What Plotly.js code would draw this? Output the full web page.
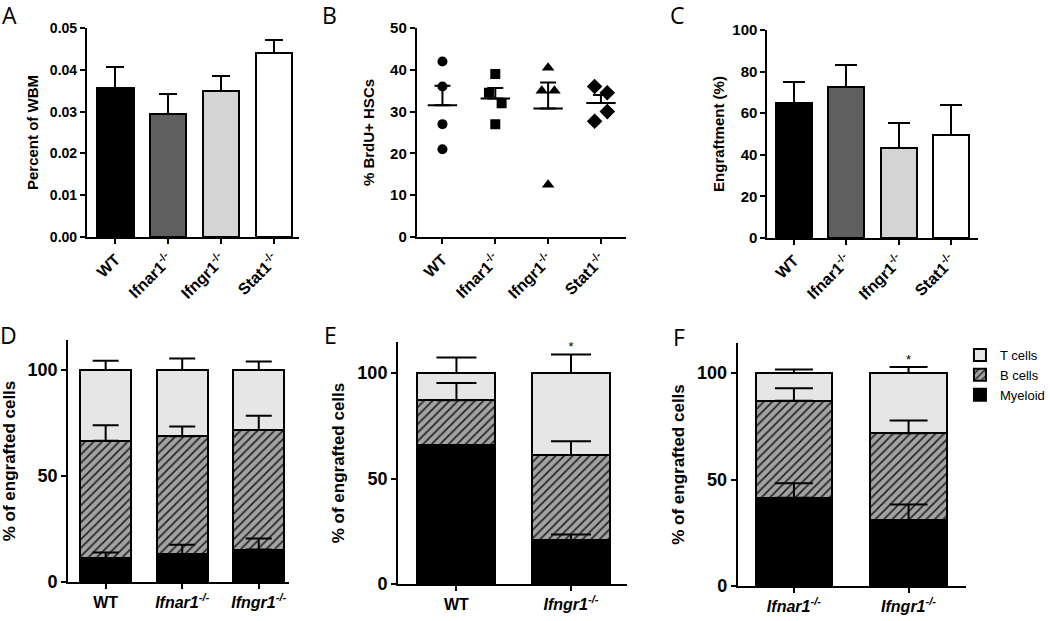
<!DOCTYPE html>
<html><head><meta charset="utf-8">
<script src="https://cdn.plot.ly/plotly-3.0.1.min.js"></script>
<style>html,body{margin:0;padding:0;background:#fff}#chart{width:1050px;height:621px}</style>
</head><body><div id="chart"></div>
<script>
// ---------- shared ----------
const genotypes = ['WT', 'Ifnar1-/-', 'Ifngr1-/-', 'Stat1-/-'];
const genotypeLabels = ['WT', 'Ifnar1<sup>-/-</sup>', 'Ifngr1<sup>-/-</sup>', 'Stat1<sup>-/-</sup>'];
const genotypeColors = ['#000000', '#5f5f5f', '#d4d4d4', '#ffffff'];

// ---------- A: Percent of WBM ----------
const wbmMean = [0.0357, 0.0294, 0.0350, 0.0440];
const wbmSem  = [0.0049, 0.0049, 0.0036, 0.0032];

// ---------- B: % BrdU+ HSCs (individual mice) ----------
const brduWT     = [42, 36, 27, 21];
const brduIfnar1 = [39, 34.5, 32, 27];
const brduIfngr1 = [40.5, 35, 35, 12.5];
const brduStat1  = [36, 34.5, 30, 27.7];
// side on which overlapping points are nudged (-1 left, 0 centre, 1 right)
const sideWT     = [0, 0, 0, 0];
const sideIfnar1 = [0, -1, 1, 0];
const sideIfngr1 = [0, -1, 1, 0];
const sideStat1  = [-1, 1, 1, -1];
const brduSymbols = ['circle', 'square', 'triangle-up', 'diamond'];

// ---------- C: Engraftment ----------
const engMean = [65, 72.5, 43.5, 49.5];
const engSem  = [10, 10.5, 12, 14.5];

// ---------- D ----------
const dCats   = ['WT', 'Ifnar1-/-', 'Ifngr1-/-'];
const dLabels = ['WT', '<i>Ifnar1<sup>-/-</sup></i>', '<i>Ifngr1<sup>-/-</sup></i>'];
const dMyeloid = [11.3, 13.1, 15.3];  const dMyeloidSem = [2.6, 4.5, 5.2];
const dBcells  = [55.3, 55.7, 56.4];  const dBcellsSem  = [7.4, 4.6, 6.7];
const dTcells  = [33.4, 31.2, 28.3];  const dTcellsSem  = [4.4, 5.5, 4.0];
const dStars   = ['', '', ''];

// ---------- E ----------
const eCats   = ['WT', 'Ifngr1-/-'];
const eLabels = ['WT', '<i>Ifngr1<sup>-/-</sup></i>'];
const eMyeloid = [65.7, 20.9];  const eMyeloidSem = [null, 2.6];
const eBcells  = [21.4, 40.2];  const eBcellsSem  = [8.2, 6.6];
const eTcells  = [12.9, 38.9];  const eTcellsSem  = [7.4, 8.8];
const eStars   = ['', '*'];

// ---------- F ----------
const fCats   = ['Ifnar1-/-', 'Ifngr1-/-'];
const fLabels = ['<i>Ifnar1<sup>-/-</sup></i>', '<i>Ifngr1<sup>-/-</sup></i>'];
const fMyeloid = [41.4, 30.8];  const fMyeloidSem = [6.8, 7.5];
const fBcells  = [45.6, 40.9];  const fBcellsSem  = [5.9, 6.0];
const fTcells  = [13.0, 28.3];  const fTcellsSem  = [1.6, 2.8];
const fStars   = ['', '*'];

const seriesNames = ['Myeloid', 'B cells', 'T cells'];

// ================= build =================
const FONT = '"Liberation Sans", Arial, Helvetica, sans-serif';
const traces = [];

function upErr(arr, w) {
  return {type: 'data', array: arr, arrayminus: arr.map(() => 0), symmetric: false,
          color: '#000', thickness: 2, width: w, visible: true};
}

// A
traces.push({type: 'bar', x: genotypes, y: wbmMean, xaxis: 'x', yaxis: 'y', width: 0.69,
  marker: {color: genotypeColors, line: {color: '#000', width: 2}},
  error_y: upErr(wbmSem, 9), showlegend: false});

// B
const brduGroups = [brduWT, brduIfnar1, brduIfngr1, brduStat1];
const brduSides  = [sideWT, sideIfnar1, sideIfngr1, sideStat1];
const means = [], sems = [];
brduGroups.forEach((g, i) => {
  const n = g.length;
  const m = g.reduce((a, b) => a + b, 0) / n;
  const sd = Math.sqrt(g.reduce((a, b) => a + (b - m) * (b - m), 0) / (n - 1));
  means.push(m); sems.push(sd / Math.sqrt(n));
  traces.push({type: 'scatter', mode: 'markers', xaxis: 'x2', yaxis: 'y2',
    x: g.map((v, k) => i + brduSides[i][k] * 0.12), y: g,
    marker: {symbol: brduSymbols[i], size: i === 2 ? 11 : (i === 3 ? 12 : 10), color: '#000'},
    showlegend: false});
});
traces.push({type: 'scatter', mode: 'markers', xaxis: 'x2', yaxis: 'y2',
  x: genotypes.map((_, i) => i), y: means,
  marker: {symbol: 'line-ew', size: 21, line: {color: '#000', width: 2}},
  error_y: upErr(sems, 8), showlegend: false});

// C
traces.push({type: 'bar', x: genotypes, y: engMean, xaxis: 'x3', yaxis: 'y3', width: 0.69,
  marker: {color: genotypeColors, line: {color: '#000', width: 2}},
  error_y: upErr(engSem, 11), showlegend: false});

// D, E, F stacked
const segStyle = [
  {color: '#000000'},
  {color: '#9c9c9c', pattern: {shape: '/', bgcolor: '#a3a3a3', fgcolor: '#262626', size: 6, solidity: 0.3}},
  {color: '#e6e6e6'}
];
function stacked(ax, cats, vals, errs, stars, width, capw, legend) {
  const xa = 'x' + ax, ya = 'y' + ax;
  vals.forEach((v, s) => {
    traces.push({type: 'bar', x: cats, y: v, xaxis: xa, yaxis: ya, width: width,
      name: seriesNames[s], legendgroup: seriesNames[s], showlegend: legend,
      marker: Object.assign({line: {color: '#000', width: 2}}, segStyle[s])});
  });
  // error bars drawn on top of all segments
  const cum = cats.map(() => 0);
  vals.forEach((v, s) => {
    const tops = v.map((val, i) => (cum[i] += val));
    traces.push({type: 'scatter', mode: 'markers', x: cats, y: tops.slice(), xaxis: xa, yaxis: ya,
      marker: {size: 1, opacity: 0}, error_y: upErr(errs[s], capw), showlegend: false, hoverinfo: 'skip'});
  });
  // significance stars (only where one is shown)
  const idx = stars.map((s, i) => i).filter(i => stars[i]);
  if (idx.length) {
    traces.push({type: 'scatter', mode: 'text', xaxis: xa, yaxis: ya,
      x: idx.map(i => cats[i]), y: idx.map(i => cum[i] + (errs[2][i] || 0)),
      text: idx.map(i => stars[i]), textposition: 'top center',
      textfont: {family: FONT, size: 13, color: '#000'}, showlegend: false, hoverinfo: 'skip'});
  }
}
stacked(4, dCats, [dMyeloid, dBcells, dTcells], [dMyeloidSem, dBcellsSem, dTcellsSem], dStars, 0.67, 13, false);
stacked(5, eCats, [eMyeloid, eBcells, eTcells], [eMyeloidSem, eBcellsSem, eTcellsSem], eStars, 0.68, 20, false);
stacked(6, fCats, [fMyeloid, fBcells, fTcells], [fMyeloidSem, fBcellsSem, fTcellsSem], fStars, 0.67, 19, true);

// ================= layout =================
const W = 1050, H = 621;
const px = v => v / W, py = v => 1 - v / H;
function yax(dom, range, titleText, tfs, tickfs, standoff, extra) {
  return Object.assign({domain: dom, range: range, showline: true, linewidth: 2, linecolor: '#000',
    ticks: 'outside', ticklen: 5, tickwidth: 2, tickcolor: '#000', showgrid: false, zeroline: false,
    tickfont: {family: FONT, size: tickfs, color: '#000', weight: 'bold'},
    title: {text: titleText, font: {family: FONT, size: tfs, color: '#000', weight: 'bold'}, standoff: standoff},
    fixedrange: true}, extra);
}
function xax(dom, range, vals, labels, fs, angle, anchor) {
  return {domain: dom, range: range, anchor: anchor, showline: true, linewidth: 2, linecolor: '#000',
    ticks: 'outside', ticklen: 5, tickwidth: 2, tickcolor: '#000', showgrid: false, zeroline: false,
    tickmode: 'array', tickvals: vals, ticktext: labels, tickangle: angle,
    tickfont: {family: FONT, size: fs, color: '#000', weight: 'bold'}, fixedrange: true};
}

const letters = [['A', 10, 15], ['B', 334, 15], ['C', 686, 15], ['D', 9, 335], ['E', 335, 335], ['F', 688, 337]];

const layout = {
  width: W, height: H, margin: {l: 0, r: 0, t: 0, b: 0},
  paper_bgcolor: '#fff', plot_bgcolor: 'rgba(0,0,0,0)',
  font: {family: FONT, color: '#000'},
  barmode: 'stack', bargap: 0.3,
  xaxis:  xax([px(88), px(303)], [-0.54, 3.48], genotypes, genotypeLabels, 16, -45, 'y'),
  yaxis:  yax([py(237), py(28)], [0, 0.05], 'Percent of WBM', 15, 14, 8, {dtick: 0.01, tickformat: '.2f', anchor: 'x'}),
  xaxis2: xax([px(422), px(634)], [-0.486, 3.477], [0, 1, 2, 3], genotypeLabels, 16, -45, 'y2'),
  yaxis2: yax([py(237), py(28)], [0, 50], '% BrdU+ HSCs', 15, 15, 12, {dtick: 10, anchor: 'x2'}),
  xaxis3: xax([px(777), px(990)], [-0.51, 3.51], genotypes, genotypeLabels, 16, -45, 'y3'),
  yaxis3: yax([py(238), py(30)], [0, 100], 'Engraftment (%)', 15, 15, 4, {dtick: 20, anchor: 'x3'}),
  xaxis4: xax([px(69), px(293)], [-0.49, 2.4], dCats, dLabels, 16, 0, 'y4'),
  yaxis4: yax([py(582), py(340)], [0, 114.2], '% of engrafted cells', 17, 18, 8, {tickvals: [0, 50, 100], anchor: 'x4'}),
  xaxis5: xax([px(403), px(635)], [-0.51, 1.49], eCats, eLabels, 16, 0, 'y5'),
  yaxis5: yax([py(584), py(342)], [0, 114.7], '% of engrafted cells', 17, 18, 8, {tickvals: [0, 50, 100], anchor: 'x5'}),
  xaxis6: xax([px(747), px(978)], [-0.49, 1.5], fCats, fLabels, 16, 0, 'y6'),
  yaxis6: yax([py(586), py(343)], [0, 114.1], '% of engrafted cells', 17, 18, 8, {tickvals: [0, 50, 100], anchor: 'x6'}),
  showlegend: true,
  legend: {x: px(972), y: py(340), xanchor: 'left', yanchor: 'top', traceorder: 'reversed',
           font: {family: FONT, size: 13, color: '#000'}, bgcolor: 'rgba(0,0,0,0)', tracegroupgap: 0},
  annotations: letters.map(l => ({text: l[0], x: px(l[1]), y: py(l[2]), xref: 'paper', yref: 'paper',
    xanchor: 'center', yanchor: 'middle', showarrow: false,
    font: {family: '"Open Sans", "DejaVu Sans", sans-serif', size: 23, color: '#000'}}))
};

Plotly.newPlot('chart', traces, layout, {staticPlot: true});
</script></body></html>
